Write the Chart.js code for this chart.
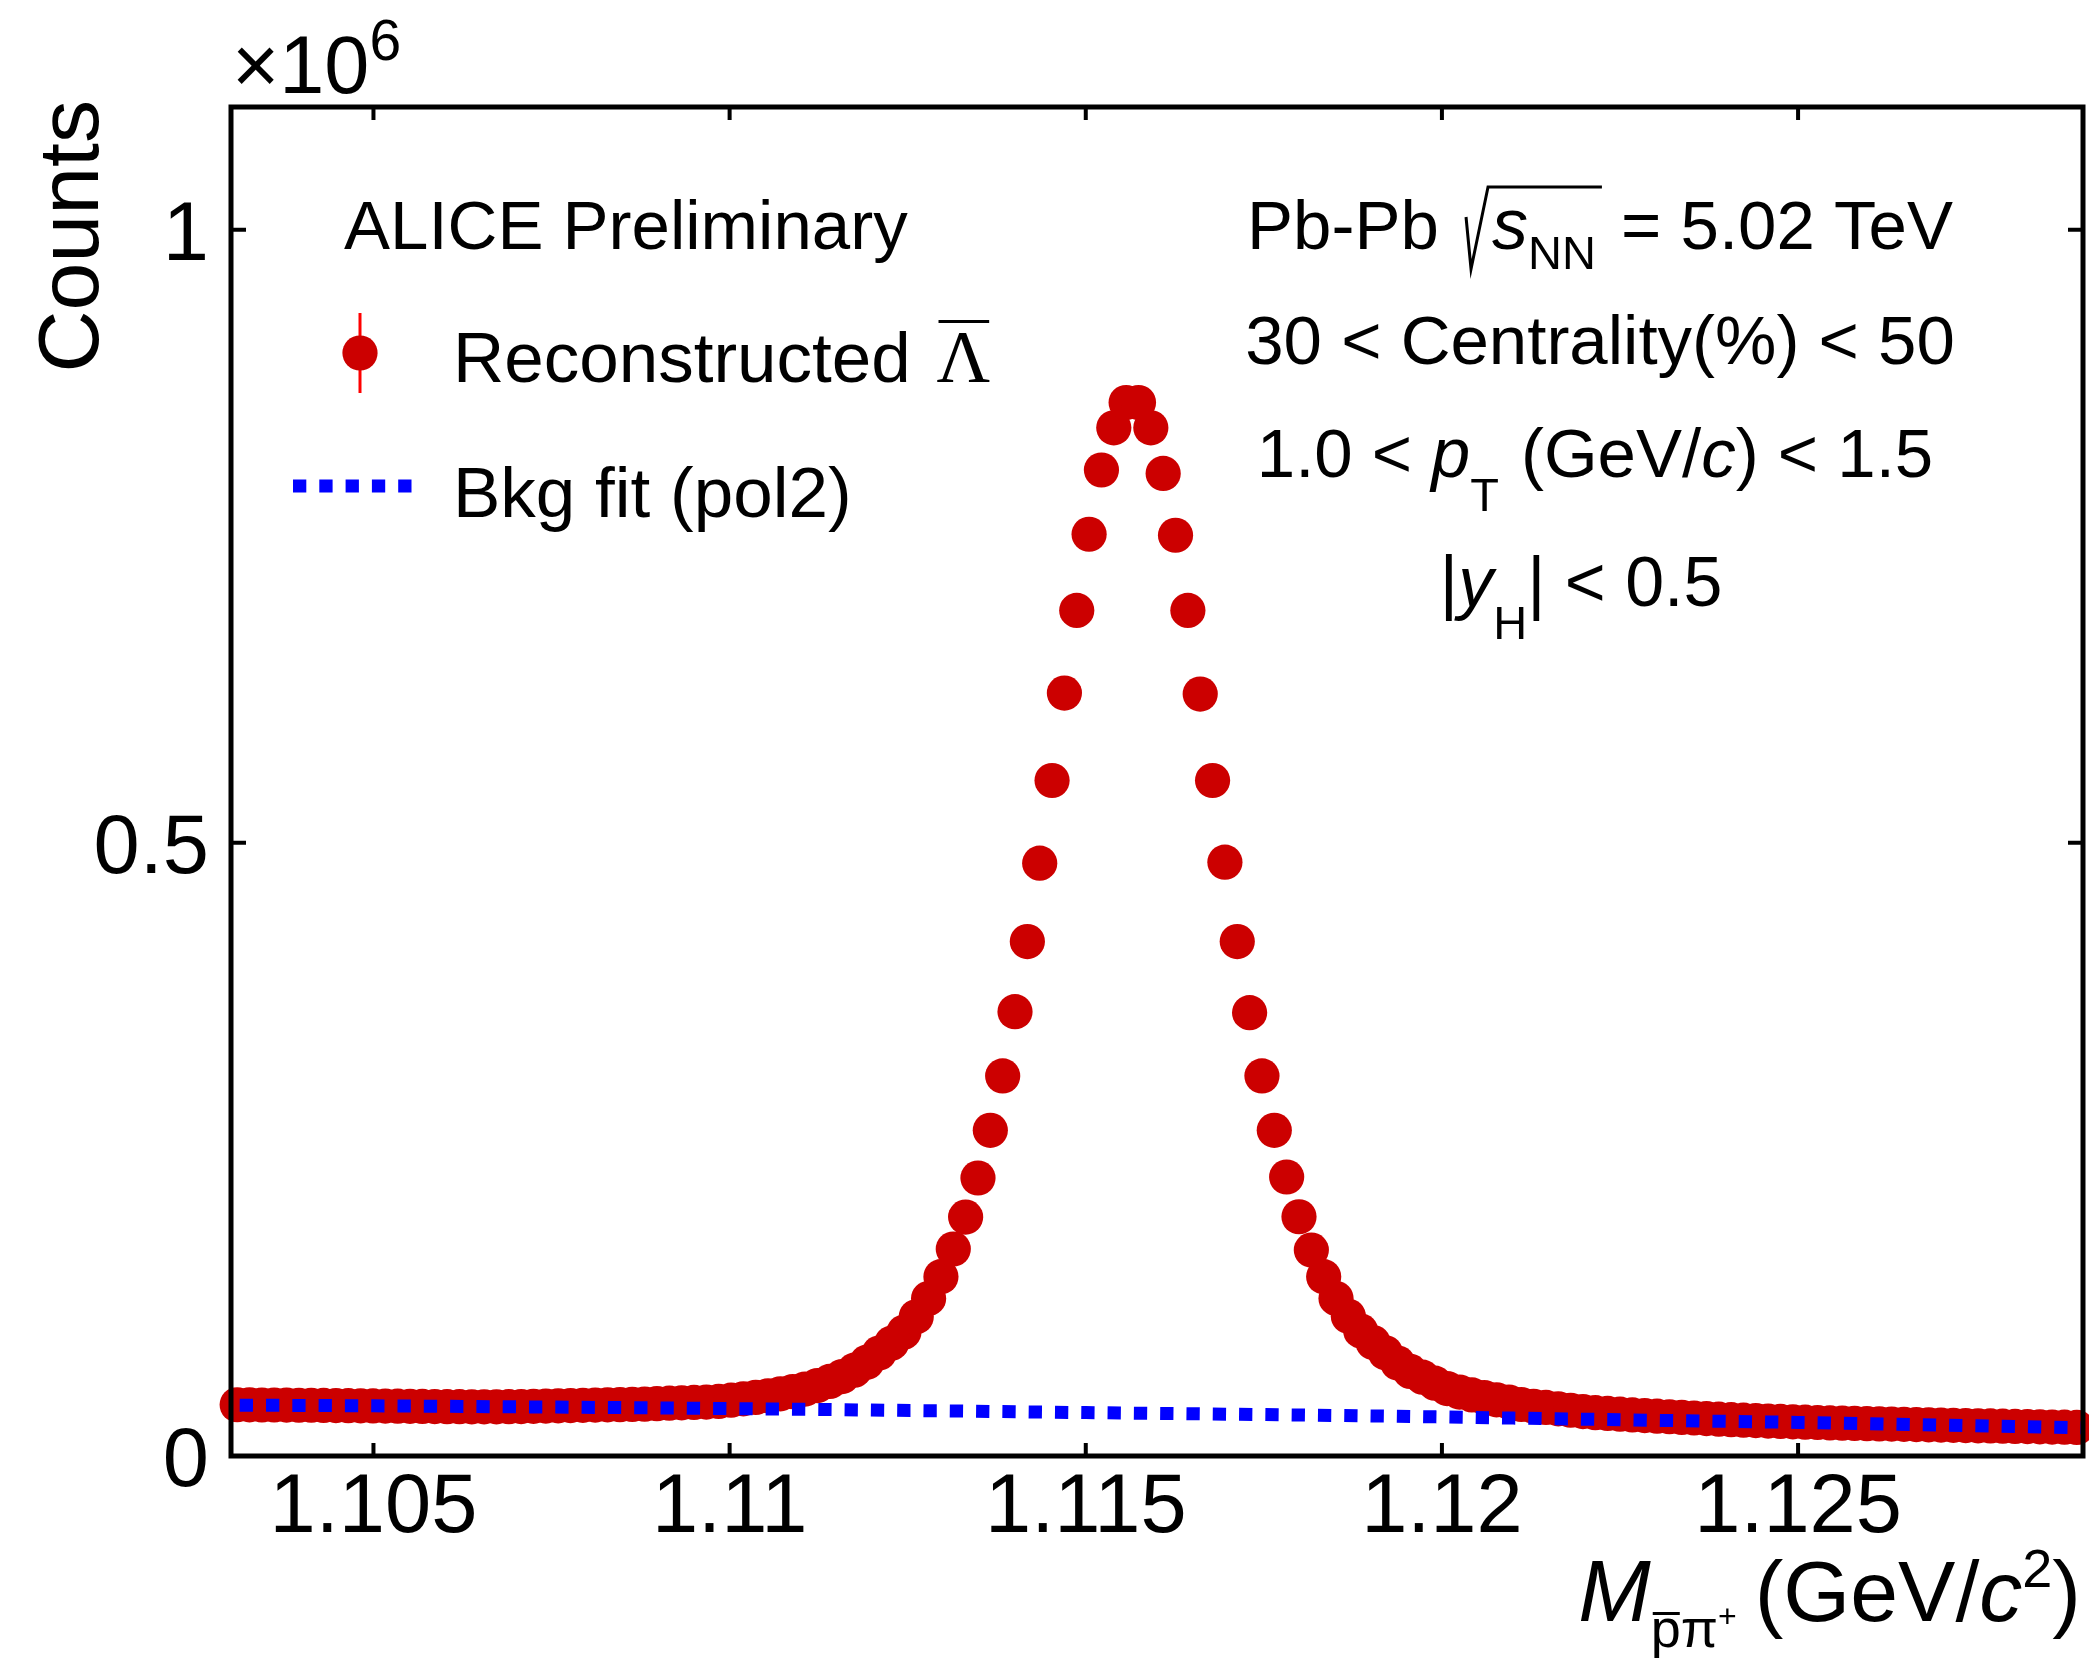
<!DOCTYPE html>
<html>
<head>
<meta charset="utf-8">
<script src="https://cdn.jsdelivr.net/npm/chart.js@4.4.1/dist/chart.umd.min.js"></script>
<style>
  html, body { margin: 0; padding: 0; background: #fff; }
  canvas { display: block; }
</style>
</head>
<body>
<canvas id="massChart" width="2089" height="1665" style="width:2089px;height:1665px"></canvas>
<script>
// anti-lambda invariant mass, 150 bins from 1.103 to 1.129 GeV/c^2
const massLow = 1.103;
const massHigh = 1.129;
const nBins = 150;

// counts per bin (x 10^6)
const counts = [
    0.0418, 0.0417, 0.0416, 0.0416, 0.0415, 0.0414, 0.0414, 0.0412, 0.0411, 0.0410,
    0.0409, 0.0408, 0.0407, 0.0406, 0.0405, 0.0404, 0.0403, 0.0402, 0.0402, 0.0401,
    0.0401, 0.0401, 0.0402, 0.0403, 0.0405, 0.0407, 0.0409, 0.0411, 0.0413, 0.0415,
    0.0417, 0.0419, 0.0421, 0.0423, 0.0427, 0.0431, 0.0434, 0.0437, 0.0440, 0.0445,
    0.0455, 0.0466, 0.0478, 0.0491, 0.0507, 0.0525, 0.0546, 0.0574, 0.0608, 0.0648,
    0.0700, 0.0765, 0.0840, 0.0920, 0.1010, 0.1135, 0.1285, 0.1462, 0.1688, 0.1948,
    0.2267, 0.2656, 0.3099, 0.3623, 0.4195, 0.4834, 0.5508, 0.6221, 0.6895, 0.7516,
    0.8040, 0.8384, 0.8590, 0.8590, 0.8384, 0.8012, 0.7508, 0.6895, 0.6213, 0.5508,
    0.4842, 0.4195, 0.3615, 0.3099, 0.2656, 0.2275, 0.1951, 0.1679, 0.1462, 0.1285,
    0.1140, 0.1020, 0.0925, 0.0842, 0.0758, 0.0690, 0.0643, 0.0594, 0.0550, 0.0521,
    0.0498, 0.0477, 0.0458, 0.0440, 0.0420, 0.0405, 0.0396, 0.0385, 0.0373, 0.0362,
    0.0353, 0.0347, 0.0341, 0.0335, 0.0330, 0.0325, 0.0320, 0.0315, 0.0310, 0.0305,
    0.0300, 0.0296, 0.0292, 0.0289, 0.0285, 0.0282, 0.0279, 0.0276, 0.0273, 0.0270,
    0.0268, 0.0266, 0.0264, 0.0262, 0.0260, 0.0258, 0.0256, 0.0254, 0.0252, 0.0250,
    0.0248, 0.0246, 0.0245, 0.0243, 0.0241, 0.0240, 0.0238, 0.0236, 0.0235, 0.0233
];

// pol2 background fit, sampled every 2 MeV/c^2 (x 10^6)
const bkgMass = [1.103, 1.105, 1.107, 1.109, 1.111, 1.113, 1.115,
                 1.117, 1.119, 1.121, 1.123, 1.125, 1.127, 1.129];
const bkgCounts = [0.0415, 0.0409, 0.0401, 0.0392, 0.0381, 0.0368, 0.0354,
                   0.0341, 0.0327, 0.0309, 0.0291, 0.0274, 0.0253, 0.0230];

const xTicks = [1.105, 1.11, 1.115, 1.12, 1.125];
const xTickLabels = ['1.105', '1.11', '1.115', '1.12', '1.125'];
const yTicks = [0, 0.5, 1];
const yTickLabels = ['0', '0.5', '1'];
const yMax = 1.1;

const FONT = '"Liberation Sans", Arial, Helvetica, sans-serif';
const SERIF = '"Liberation Serif", "Times New Roman", serif';
const RED = '#cc0000';
const BLUE = '#0000ff';

const binWidth = (massHigh - massLow) / nBins;
const histPoints = counts.map((c, i) => ({ x: massLow + (i + 0.5) * binWidth, y: c }));
const bkgPoints = bkgMass.map((m, i) => ({ x: m, y: bkgCounts[i] }));

function fontOf(p) {
    return (p.i ? 'italic ' : '') + p.s + 'px ' + (p.serif ? SERIF : FONT);
}

/* ==============================
   TEXT WITH SUB/SUPERSCRIPTS
================================ */
function drawRich(ctx, parts, x, y, align) {
    parts.forEach(p => {
        if (p.sqrt) { p.w = p.sqrt; return; }
        ctx.font = fontOf(p);
        p.w = ctx.measureText(p.t).width;
    });
    const total = parts.reduce((a, p) => a + p.w + (p.gap || 0), 0);
    let cx = align === 'center' ? x - total / 2 : (align === 'right' ? x - total : x);

    ctx.textAlign = 'left';
    ctx.textBaseline = 'alphabetic';
    parts.forEach((p, k) => {
        if (p.sqrt) {
            // radical sign with bar over the following parts
            let span = 0;
            for (let j = 1; j <= p.span; j++) span += parts[k + j].w + (parts[k + j].gap || 0);
            ctx.save();
            ctx.lineWidth = 3;
            ctx.strokeStyle = '#000';
            ctx.beginPath();
            ctx.moveTo(cx + 2, y - 32);
            ctx.lineTo(cx + 7, y + 20);
            ctx.lineTo(cx + p.w - 4, y - 62);
            ctx.lineTo(cx + p.w + span, y - 62);
            ctx.stroke();
            ctx.restore();
        } else {
            ctx.font = fontOf(p);
            ctx.fillText(p.t, cx, y + (p.dy || 0));
            if (p.over !== undefined) {
                ctx.fillRect(cx + 2, y + (p.dy || 0) + p.over, p.w - 3, 3);
            }
        }
        cx += p.w + (p.gap || 0);
    });
}

/* ==============================
   FRAME, AXES AND LABELS
================================ */
const rootStyle = {
    id: 'rootStyle',
    afterDatasetsDraw(chart) {
        const ctx = chart.ctx;
        const { left, right, top, bottom } = chart.chartArea;
        const xs = chart.scales.x;
        const ys = chart.scales.y;

        ctx.save();
        ctx.fillStyle = '#000';
        ctx.strokeStyle = '#000';

        // frame
        ctx.lineWidth = 5;
        ctx.strokeRect(left, top, right - left, bottom - top);

        // inward ticks on all four sides
        ctx.lineWidth = 4;
        ctx.beginPath();
        xTicks.forEach(v => {
            const px = xs.getPixelForValue(v);
            ctx.moveTo(px, bottom); ctx.lineTo(px, bottom - 13);
            ctx.moveTo(px, top); ctx.lineTo(px, top + 13);
        });
        yTicks.forEach(v => {
            const py = ys.getPixelForValue(v);
            ctx.moveTo(left, py); ctx.lineTo(left + 15, py);
            ctx.moveTo(right, py); ctx.lineTo(right - 15, py);
        });
        ctx.stroke();

        // tick labels
        ctx.font = '83px ' + FONT;
        ctx.textBaseline = 'alphabetic';
        ctx.textAlign = 'center';
        xTicks.forEach((v, k) => {
            ctx.fillText(xTickLabels[k], xs.getPixelForValue(v), bottom + 76);
        });
        ctx.textAlign = 'right';
        yTicks.forEach((v, k) => {
            ctx.fillText(yTickLabels[k], left - 22, ys.getPixelForValue(v) + 30);
        });

        // exponent
        drawRich(ctx, [
            { t: '\u00d710', s: 81 },
            { t: '6', s: 57, dy: -33 }
        ], left + 1, 93, 'left');

        // y title
        ctx.save();
        ctx.translate(98, 100);
        ctx.rotate(-Math.PI / 2);
        ctx.font = '86px ' + FONT;
        ctx.textAlign = 'right';
        ctx.fillText('Counts', 0, 0);
        ctx.restore();

        // x title
        drawRich(ctx, [
            { t: 'M', s: 87, i: true },
            { t: 'p', s: 54, dy: 26, over: -35 },
            { t: '\u03c0', s: 54, dy: 26 },
            { t: '+', s: 32, dy: 6, gap: 18 },
            { t: '(GeV/', s: 86 },
            { t: 'c', s: 86, i: true },
            { t: '2', s: 54, dy: -34 },
            { t: ')', s: 86 }
        ], right - 2, 1621, 'right');

        // collision system and kinematic selection
        drawRich(ctx, [
            { t: 'Pb-Pb ', s: 69, gap: 6 },
            { sqrt: 28, span: 2 },
            { t: 's', s: 72, i: true },
            { t: 'NN', s: 47, dy: 20, gap: 6 },
            { t: ' = 5.02 TeV', s: 69 }
        ], 1600, 249, 'center');
        drawRich(ctx, [
            { t: '30 < Centrality(%) < 50', s: 69 }
        ], 1600, 364, 'center');
        drawRich(ctx, [
            { t: '1.0 < ', s: 69 },
            { t: 'p', s: 70, i: true },
            { t: 'T', s: 47, dy: 34, gap: 22 },
            { t: '(GeV/', s: 69 },
            { t: 'c', s: 69, i: true },
            { t: ') < 1.5', s: 69 }
        ], 1595, 477, 'center');
        drawRich(ctx, [
            { t: '|', s: 72 },
            { t: 'y', s: 70, i: true },
            { t: 'H', s: 47, dy: 33 },
            { t: '| < 0.5', s: 70 }
        ], 1581, 606, 'center');

        // legend
        drawRich(ctx, [{ t: 'ALICE Preliminary', s: 69 }], 344, 249, 'left');

        ctx.strokeStyle = '#ff0000';
        ctx.lineWidth = 3;
        ctx.beginPath();
        ctx.moveTo(360, 313); ctx.lineTo(360, 393);
        ctx.stroke();
        ctx.fillStyle = RED;
        ctx.beginPath();
        ctx.arc(360, 353, 17.6, 0, Math.PI * 2);
        ctx.fill();
        ctx.fillStyle = '#000';
        drawRich(ctx, [
            { t: 'Reconstructed ', s: 71, gap: 6 },
            { t: '\u039b', s: 74, serif: true, over: -62 }
        ], 453, 382, 'left');

        ctx.strokeStyle = BLUE;
        ctx.lineWidth = 13;
        ctx.setLineDash([13.3, 13]);
        ctx.beginPath();
        ctx.moveTo(293, 486); ctx.lineTo(416, 486);
        ctx.stroke();
        ctx.setLineDash([]);
        drawRich(ctx, [{ t: 'Bkg fit (pol2)', s: 71 }], 453, 517, 'left');

        ctx.restore();
    }
};

new Chart(document.getElementById('massChart'), {
    type: 'scatter',
    data: {
        datasets: [
            {
                label: 'Bkg fit (pol2)',
                data: bkgPoints,
                showLine: true,
                borderColor: BLUE,
                borderWidth: 13,
                borderDash: [13.3, 13],
                borderDashOffset: 17.6,
                borderCapStyle: 'butt',
                cubicInterpolationMode: 'monotone',
                pointRadius: 0,
                order: 0
            },
            {
                label: 'Reconstructed',
                data: histPoints,
                pointRadius: 17.6,
                pointBackgroundColor: RED,
                pointBorderWidth: 0,
                borderWidth: 0,
                clip: false,
                order: 1
            }
        ]
    },
    options: {
        responsive: false,
        devicePixelRatio: 1,
        animation: false,
        events: [],
        layout: {
            autoPadding: false,
            padding: { left: 231, right: 6, top: 107, bottom: 209 }
        },
        plugins: {
            legend: { display: false },
            tooltip: { enabled: false }
        },
        scales: {
            x: { type: 'linear', min: massLow, max: massHigh, display: false },
            y: { type: 'linear', min: 0, max: yMax, display: false }
        }
    },
    plugins: [rootStyle]
});
</script>
</body>
</html>
